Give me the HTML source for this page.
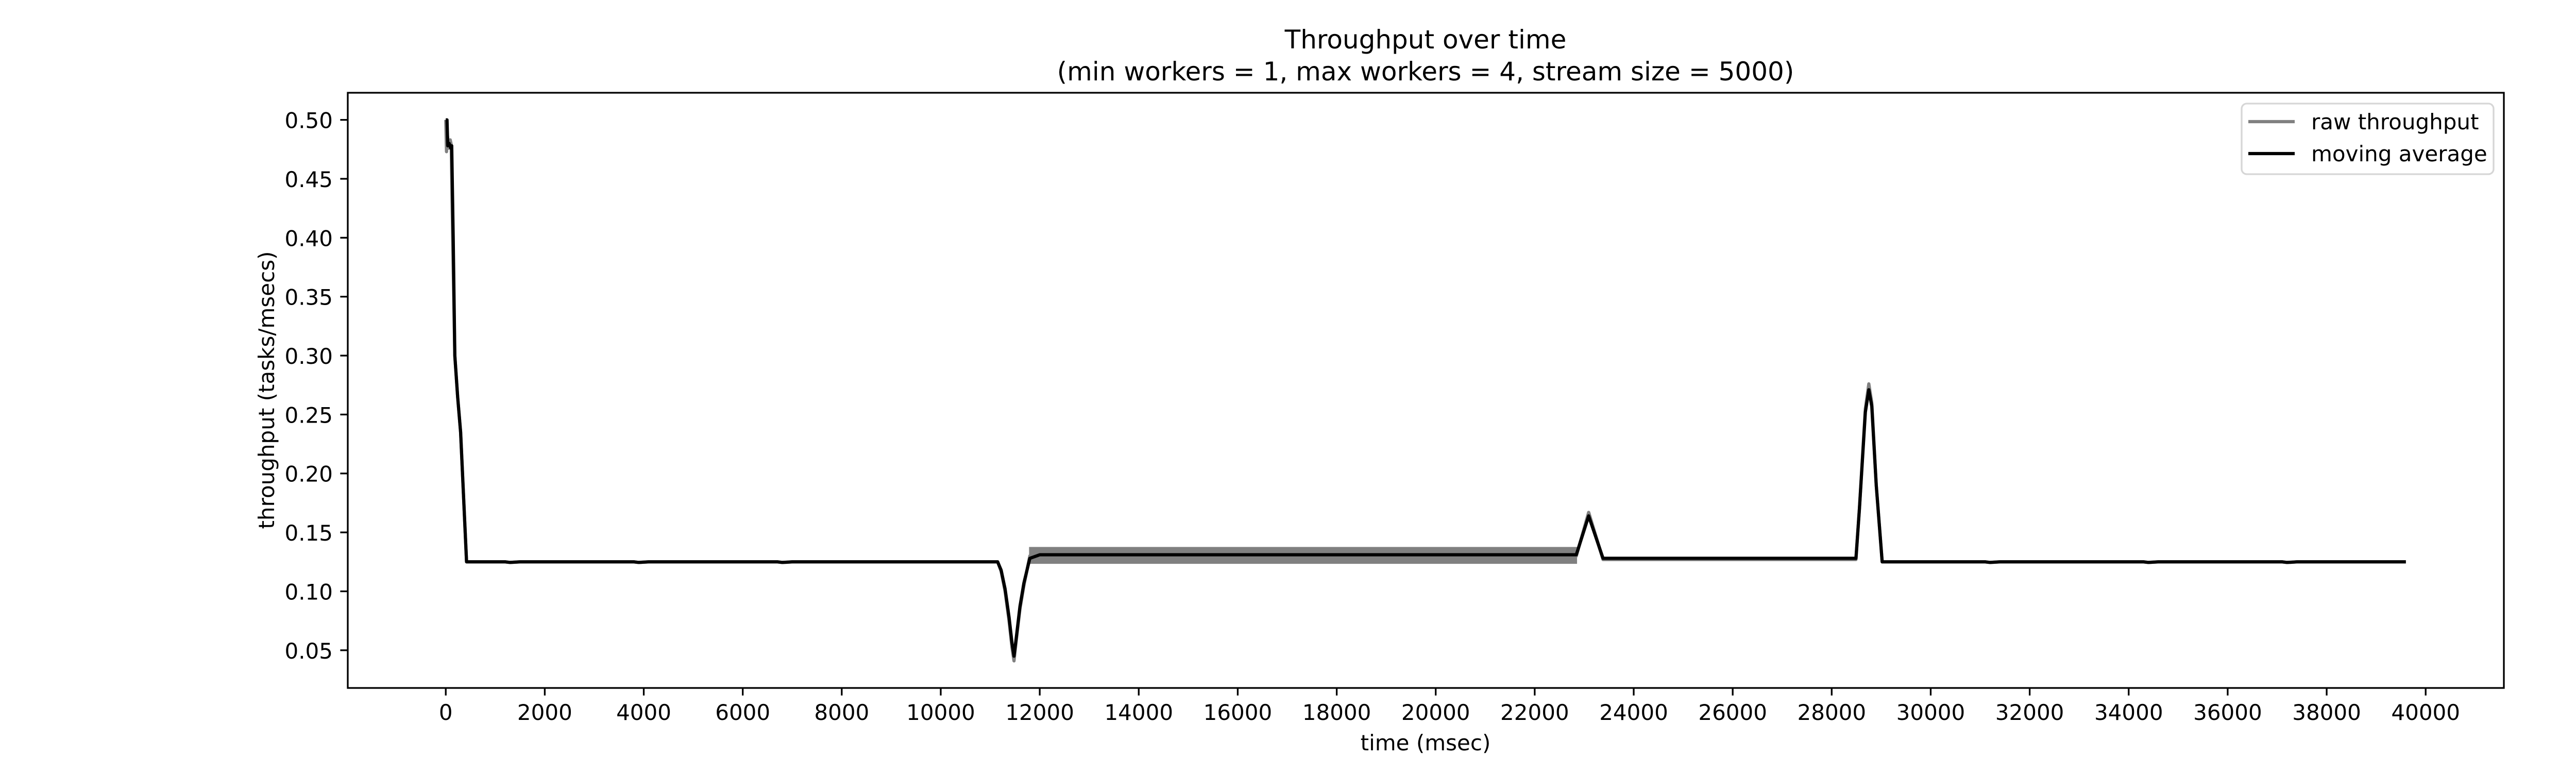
<!DOCTYPE html>
<html><head><meta charset="utf-8"><style>
html,body{margin:0;padding:0;background:#fff;overflow:hidden;}
svg{display:block;font-family:"DejaVu Sans","Liberation Sans",sans-serif;}
</style></head><body>
<svg id="chart" width="5400" height="1500" viewBox="0 0 5400 1500" xmlns="http://www.w3.org/2000/svg">
<rect x="0" y="0" width="5400" height="1500" fill="#fff"/>
<text x="2767" y="94" font-size="50" text-anchor="middle">Throughput over time</text>
<text x="2767" y="156" font-size="50" text-anchor="middle">(min workers = 1, max workers = 4, stream size = 5000)</text>
<g id="plot"></g>
<rect x="675" y="180" width="4185" height="1155" fill="none" stroke="#000" stroke-width="3.3"/>
<g id="xticks"></g>
<g id="yticks"></g>
<text x="2767" y="1456" font-size="42" text-anchor="middle">time (msec)</text>
<text x="0" y="0" font-size="42" text-anchor="middle" transform="translate(532,757) rotate(-90)">throughput (tasks/msecs)</text>
<g>
<rect x="4351" y="201" width="489" height="137" rx="10" fill="#fff" fill-opacity="0.8" stroke="#d6d6d6" stroke-width="3.3"/>
<line x1="4364" y1="236" x2="4454" y2="236" stroke="#808080" stroke-width="6.25"/>
<text x="4486" y="251" font-size="42">raw throughput</text>
<line x1="4364" y1="298" x2="4454" y2="298" stroke="#000" stroke-width="6.25"/>
<text x="4486" y="313" font-size="42">moving average</text>
</g>
</svg>
<script>
const xTicks = [0,2000,4000,6000,8000,10000,12000,14000,16000,18000,20000,22000,24000,26000,28000,30000,32000,34000,36000,38000,40000];
const yTicks = [0.05,0.10,0.15,0.20,0.25,0.30,0.35,0.40,0.45,0.50];
const yTickLabels = ["0.05","0.10","0.15","0.20","0.25","0.30","0.35","0.40","0.45","0.50"];
const rawX = [0,15,30,60,90,110,140,183,240,300,360,420,1200,1300,1500,3800,3900,4100,6700,6800,7000,11150,11220,11300,11380,11440,11480,11530,11600,11680,11800,22840,23090,23380,24000,28490,28560,28680,28750,28810,28900,29020,31100,31200,31400,34300,34400,34600,37100,37200,37400,39600];
const rawY = [0.50,0.473,0.488,0.476,0.483,0.479,0.40,0.30,0.265,0.235,0.18,0.125,0.125,0.1245,0.125,0.125,0.1245,0.125,0.125,0.1245,0.125,0.125,0.117,0.10,0.075,0.052,0.041,0.06,0.085,0.105,0.13,0.13,0.167,0.127,0.127,0.127,0.17,0.255,0.276,0.26,0.19,0.125,0.125,0.1245,0.125,0.125,0.1245,0.125,0.125,0.1245,0.125,0.125];
const avgX = [0,25,40,70,100,120,150,183,240,300,360,420,1200,1300,1500,3800,3900,4100,6700,6800,7000,11150,11220,11300,11380,11440,11480,11530,11600,11680,11800,12000,22840,23090,23380,24000,28490,28560,28680,28750,28810,28900,29020,31100,31200,31400,34300,34400,34600,37100,37200,37400,39600];
const avgY = [0.50,0.50,0.478,0.48,0.476,0.478,0.40,0.30,0.265,0.235,0.18,0.125,0.125,0.1245,0.125,0.125,0.1245,0.125,0.125,0.1245,0.125,0.125,0.118,0.102,0.078,0.056,0.045,0.062,0.087,0.107,0.128,0.131,0.131,0.164,0.128,0.128,0.128,0.17,0.252,0.271,0.257,0.19,0.125,0.125,0.1245,0.125,0.125,0.1245,0.125,0.125,0.1245,0.125,0.125];
const bandX = [11800,22840];
const bandHigh = [0.137,0.137];
const bandLow = [0.124,0.124];

const X0=675,X1=4860,Y0=180,Y1=1335,XMIN=-1980,XMAX=41580,YMIN=0.018,YMAX=0.523;
function xs(v){return X0+(v-XMIN)/(XMAX-XMIN)*(X1-X0);}
function ys(v){return Y0+(YMAX-v)/(YMAX-YMIN)*(Y1-Y0);}
const NS="http://www.w3.org/2000/svg";
const plot=document.getElementById('plot');
function mk(t,a){const e=document.createElementNS(NS,t);for(const k in a)e.setAttribute(k,a[k]);return e;}

let bp=[];
for(let i=0;i<bandX.length;i++)bp.push(xs(bandX[i])+','+ys(bandHigh[i]));
for(let i=bandX.length-1;i>=0;i--)bp.push(xs(bandX[i])+','+ys(bandLow[i]));
const band=mk('polygon',{points:bp.join(' '),fill:'#808080',stroke:'#808080','stroke-width':3});


plot.appendChild(band);

const raw=mk('polyline',{points:rawX.map((x,i)=>xs(x)+','+ys(rawY[i])).join(' '),fill:'none',stroke:'#808080','stroke-width':6.25,'stroke-linejoin':'round'});


plot.appendChild(raw);

const avg=mk('polyline',{points:avgX.map((x,i)=>xs(x)+','+ys(avgY[i])).join(' '),fill:'none',stroke:'#000','stroke-width':6.25,'stroke-linejoin':'round'});


plot.appendChild(avg);

const xg=document.getElementById('xticks');
xTicks.forEach(v=>{
  const x=xs(v);
  const l=mk('line',{x1:x,y1:Y1,x2:x,y2:Y1+14.6,stroke:'#000','stroke-width':3.3});
  
  
  xg.appendChild(l);
  const t=mk('text',{x:x,y:1397,'font-size':42,'text-anchor':'middle'});
  
  
  t.textContent=String(v);
  xg.appendChild(t);
});
const yg=document.getElementById('yticks');
yTicks.forEach((v,i)=>{
  const y=ys(v);
  const l=mk('line',{x1:X0-14.6,y1:y,x2:X0,y2:y,stroke:'#000','stroke-width':3.3});
  
  
  yg.appendChild(l);
  const t=mk('text',{x:646,y:y+16,'font-size':42,'text-anchor':'end'});
  
  
  t.textContent=yTickLabels[i];
  yg.appendChild(t);
});
</script>
</body></html>
